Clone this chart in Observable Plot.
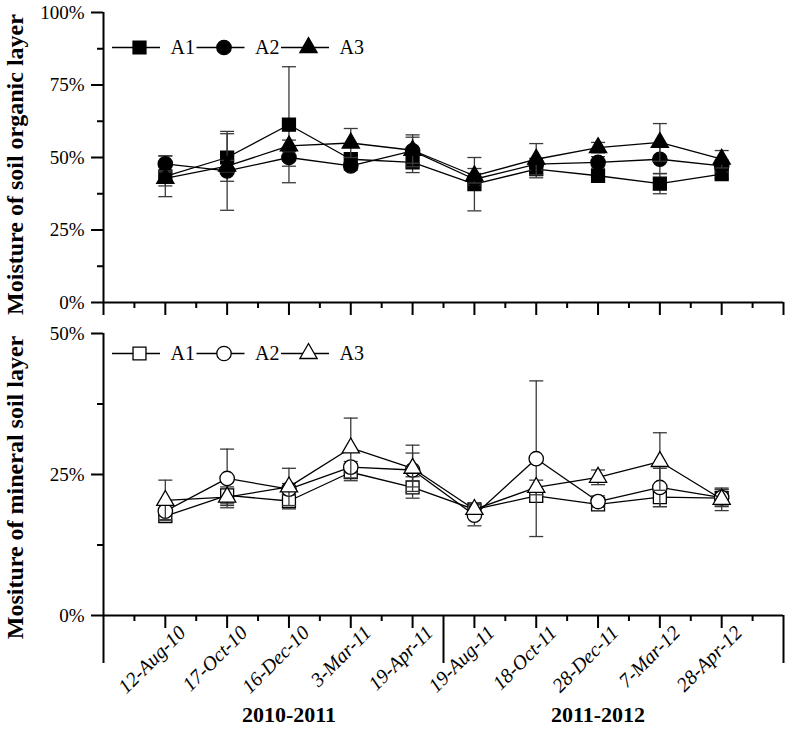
<!DOCTYPE html>
<html><head><meta charset="utf-8">
<script src="https://cdn.jsdelivr.net/npm/d3@7"></script>
<script src="https://cdn.jsdelivr.net/npm/@observablehq/plot@0.6"></script>
<style>body{margin:0;background:#fff;} svg{display:block;}</style>
</head><body><div id="chart"></div>
<script>
// ---- data ----
const dates = ["12-Aug-10","17-Oct-10","16-Dec-10","3-Mar-11","19-Apr-11","19-Aug-11","18-Oct-11","28-Dec-11","7-Mar-12","28-Apr-12"];
const seasons = ["2010-2011","2011-2012"];
const seasonOf = [0,0,0,0,0,1,1,1,1,1];
const series = ["A1","A2","A3"];

// organic layer moisture (%)
const orgA1 = [43.5, 50.0, 61.3, 49.4, 48.3, 40.8, 46.0, 43.7, 41.0, 44.3];
const orgA1err = [7.0, 8.2, 20.0, 1.5, 3.5, 9.2, 3.0, 1.5, 3.5, 1.5];
const orgA2 = [47.8, 45.4, 50.0, 47.1, 52.3, 42.5, 47.7, 48.3, 49.4, 47.1];
const orgA2err = [2.8, 13.6, 3.0, 1.5, 5.5, 2.0, 2.0, 2.0, 5.0, 2.0];
const orgA3 = [42.8, 47.0, 54.0, 55.0, 52.5, 43.7, 49.4, 53.4, 55.2, 49.4];
const orgA3err = [2.6, 2.0, 2.0, 5.0, 4.5, 2.5, 5.4, 1.8, 6.5, 3.0];

// mineral layer moisture (%)
const minA1 = [17.6, 21.3, 20.3, 25.4, 22.7, 18.8, 21.2, 19.7, 21.0, 20.8];
const minA1err = [1.0, 1.5, 1.4, 1.5, 1.9, 0.8, 1.0, 0.6, 1.7, 1.5];
const minA2 = [18.5, 24.3, 22.4, 26.3, 25.8, 17.8, 27.8, 20.2, 22.7, 20.9];
const minA2err = [1.5, 5.2, 1.0, 1.0, 3.0, 1.9, 13.8, 1.0, 3.4, 1.5];
const minA3 = [20.4, 21.0, 22.8, 29.7, 26.1, 18.8, 22.7, 24.5, 27.3, 20.6];
const minA3err = [3.6, 1.5, 3.3, 5.3, 4.1, 0.8, 1.3, 1.3, 5.1, 2.0];

const orgTicks = [0, 25, 50, 75, 100];
const minTicks = [0, 25, 50];
const orgTitle = "Moisture of soil organic layer";
const minTitle = "Mositure of mineral soil layer";

// ---- drawing ----
const W = 787;
const FONT = "'Liberation Serif','Times New Roman',serif";
const positions = dates.map((d, i) => i + 1);
const xDomain = [0, dates.length + 1];
const symbols = {A1: "square", A2: "circle", A3: "triangle"};
const radii = {A1: 7.3, A2: 7.2, A3: 6.4};
const capSymbol = {draw(ctx, size) { const r = Math.sqrt(size / Math.PI); ctx.moveTo(-r, 0); ctx.lineTo(r, 0); }};

function rows(vals, errs) { return dates.map((d, i) => ({date: d, pos: positions[i], v: vals[i], e: errs[i]})); }

function seriesMarks(data, name, filled) {
  const eb = {stroke: "#3a3a3a", strokeWidth: 1.3};
  return [
    Plot.line(data, {x: "pos", y: "v", stroke: "black", strokeWidth: 1.3}),
    Plot.ruleX(data, {x: "pos", y1: d => d.v - d.e, y2: d => d.v + d.e, ...eb}),
    Plot.dot(data, {x: "pos", y: d => d.v + d.e, symbol: capSymbol, r: 7, fill: "none", ...eb}),
    Plot.dot(data, {x: "pos", y: d => d.v - d.e, symbol: capSymbol, r: 7, fill: "none", ...eb}),
    Plot.dot(data, {x: "pos", y: "v", symbol: symbols[name], r: radii[name], fill: filled ? "black" : "white", stroke: "black", strokeWidth: 1.3})
  ];
}

function legendMarks(yTop, dy, filled, frameW) {
  const offs = [9, 93.5, 178];
  return series.flatMap((name, k) => [
    Plot.ruleY([yTop], {dy, insetLeft: offs[k], insetRight: frameW - offs[k] - 48, stroke: "black", strokeWidth: 1.3}),
    Plot.dot([name], {frameAnchor: "top-left", dx: offs[k] + 27, dy, symbol: symbols[name], r: radii[name], fill: filled ? "black" : "white", stroke: "black", strokeWidth: 1.3}),
    Plot.text([name], {frameAnchor: "top-left", dx: offs[k] + 58, dy, text: d => d, textAnchor: "start", lineAnchor: "middle", fontSize: 20, fill: "black"})
  ]);
}

function minor(ticks) {
  const out = [];
  for (let i = 0; i < ticks.length - 1; i++) out.push((ticks[i] + ticks[i + 1]) / 2);
  return out;
}

const styleObj = {fontFamily: FONT, fontSize: "19px", background: "white", color: "black", overflow: "visible"};
const mL = 103, mR = 4, frameW = W - mL - mR;

// top panel
const orgSeries = [rows(orgA1, orgA1err), rows(orgA2, orgA2err), rows(orgA3, orgA3err)];
const topChart = Plot.plot({
  width: W, height: 320, marginLeft: mL, marginRight: mR, marginTop: 12, marginBottom: 18,
  style: styleObj,
  x: {domain: xDomain},
  y: {domain: [orgTicks[0], orgTicks[orgTicks.length - 1]]},
  marks: [
    Plot.axisY(orgTicks, {tickSize: 12, tickPadding: 7, tickFormat: d => d + "%", fontSize: 19, strokeWidth: 2, label: null}),
    Plot.axisY(minor(orgTicks), {tickSize: 6, fill: "none", strokeWidth: 2, label: null}),
    Plot.axisX(d3.range(0, dates.length + 2), {tickSize: 13, fill: "none", strokeWidth: 2, label: null}),
    Plot.axisX(d3.range(0.5, dates.length + 1, 1), {tickSize: 6, fill: "none", strokeWidth: 2, label: null}),
    Plot.ruleX([0], {strokeWidth: 2}),
    Plot.ruleY([0], {strokeWidth: 2}),
    ...series.flatMap((name, k) => seriesMarks(orgSeries[k], name, true)),
    ...legendMarks(orgTicks[orgTicks.length - 1], 35, true, frameW),
    Plot.text([orgTitle], {frameAnchor: "left", dx: -88, dy: 7, rotate: -90, textAnchor: "middle", lineAnchor: "middle", text: d => d, fontWeight: "bold", fontSize: 24, fill: "black"})
  ]
});

// bottom panel
const minSeries = [rows(minA1, minA1err), rows(minA2, minA2err), rows(minA3, minA3err)];
const halfTicks = d3.range(0.5, dates.length + 1, 1);
const groupBreak = (positions[seasonOf.indexOf(1) - 1] + positions[seasonOf.indexOf(1)]) / 2;
const bottomChart = Plot.plot({
  width: W, height: 411, marginLeft: mL, marginRight: mR, marginTop: 13, marginBottom: 116,
  style: styleObj,
  x: {domain: xDomain},
  y: {domain: [minTicks[0], minTicks[minTicks.length - 1]]},
  marks: [
    Plot.axisY(minTicks, {tickSize: 12, tickPadding: 7, tickFormat: d => d + "%", fontSize: 19, strokeWidth: 2, label: null}),
    Plot.axisY(minor(minTicks), {tickSize: 6, fill: "none", strokeWidth: 2, label: null}),
    Plot.axisX(positions, {tickSize: 13, fill: "none", strokeWidth: 2, label: null}),
    Plot.axisX(halfTicks.filter(t => t !== groupBreak), {tickSize: 6, fill: "none", strokeWidth: 2, label: null}),
    Plot.axisX([0, groupBreak, dates.length + 1], {tickSize: 48, fill: "none", strokeWidth: 2, label: null}),
    Plot.axisX(positions, {tickSize: 0, tickPadding: 14, dx: 17, tickRotate: -45, tickFormat: i => dates[i - 1], fontStyle: "italic", fontSize: 20, label: null}),
    Plot.ruleX([0], {strokeWidth: 2}),
    Plot.ruleY([0], {strokeWidth: 2}),
    ...series.flatMap((name, k) => seriesMarks(minSeries[k], name, false)),
    ...legendMarks(minTicks[minTicks.length - 1], 20, false, frameW),
    Plot.text(seasons, {x: (s, i) => d3.mean(positions.filter((p, j) => seasonOf[j] === i)), frameAnchor: "bottom", dy: 106, text: d => d, fontWeight: "bold", fontSize: 22, fill: "black"}),
    Plot.text([minTitle], {frameAnchor: "left", dx: -88, dy: 13, rotate: -90, textAnchor: "middle", lineAnchor: "middle", text: d => d, fontWeight: "bold", fontSize: 24, fill: "black"})
  ]
});

const host = document.getElementById("chart");
host.appendChild(topChart);
host.appendChild(bottomChart);
</script>
</body></html>
